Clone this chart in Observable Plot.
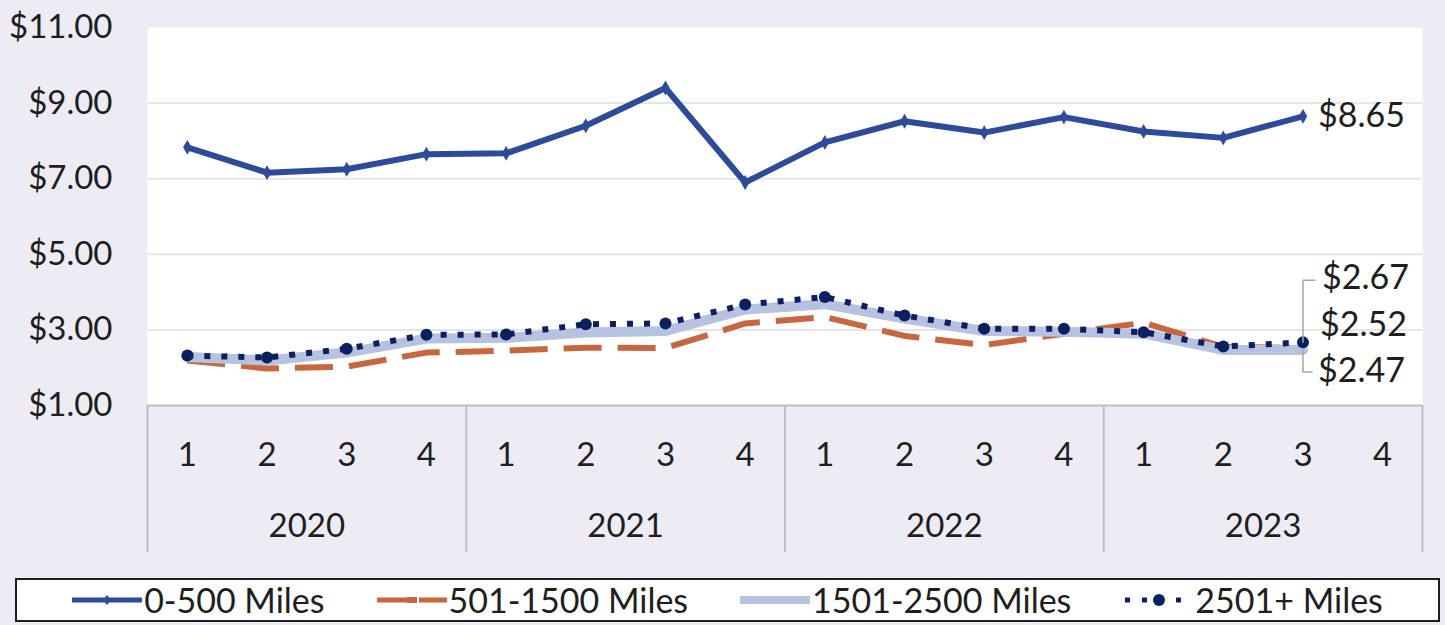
<!DOCTYPE html>
<html>
<head>
<meta charset="utf-8">
<script src="https://cdn.jsdelivr.net/npm/d3@7"></script>
<script src="https://cdn.jsdelivr.net/npm/@observablehq/plot@0.6"></script>
<style>
  html, body { margin: 0; padding: 0; background: #EDECF5; }
  body { font-family: Lato, "Open Sans", sans-serif; color: #1e1e1e; }
  #wrap { position: relative; width: 1445px; height: 625px; }
  #chart svg { display: block; }
  #legend {
    position: absolute; left: 15px; top: 578px; width: 1421px; height: 40px;
    border: 2px solid #1e1e1e; background: #fff;
    display: flex; align-items: center; justify-content: center; gap: 52px;
    font-size: 34px; line-height: 1;
  }
  .item { display: flex; align-items: center; white-space: nowrap; }
  .item svg { display: block; margin-right: 2px; }
</style>
</head>
<body>
<div id="wrap">
  <div id="chart"></div>
  <div id="legend"></div>
</div>
<script>
// ---- data ----
const years = ["2020", "2021", "2022", "2023"];
const quarters = ["1", "2", "3", "4"];
const seriesNames = ["0-500 Miles", "501-1500 Miles", "1501-2500 Miles", "2501+ Miles"];
const miles0to500     = [7.83, 7.16, 7.25, 7.65, 7.67, 8.40, 9.40, 6.90, 7.96, 8.52, 8.22, 8.63, 8.25, 8.08, 8.65];
const miles501to1500  = [2.19, 1.98, 2.03, 2.40, 2.45, 2.53, 2.52, 3.17, 3.34, 2.84, 2.60, 2.90, 3.19, 2.55, 2.52];
const miles1501to2500 = [2.28, 2.19, 2.40, 2.77, 2.79, 2.93, 2.97, 3.54, 3.68, 3.30, 2.97, 2.95, 2.90, 2.47, 2.47];
const miles2501plus   = [2.32, 2.27, 2.50, 2.87, 2.88, 3.15, 3.17, 3.67, 3.87, 3.38, 3.03, 3.03, 2.94, 2.56, 2.67];
const yTicks = [1, 3, 5, 7, 9, 11];

// ---- styles ----
const colors = ["#2E4A9B", "#C8673F", "#B7C2E0", "#0B2060"];

// ---- derived tables ----
const seriesValues = [miles0to500, miles501to1500, miles1501to2500, miles2501plus];
const rows = seriesValues.flatMap((vals, s) => vals.map((v, i) => ({ s, name: seriesNames[s], i, v })));
const bySeries = s => rows.filter(d => d.s === s);
const slots = years.flatMap((y, yi) => quarters.map((q, qi) => ({ i: yi * quarters.length + qi, q, y })));
const yearCenters = years.map((y, yi) => ({ y, i: yi * quarters.length + (quarters.length - 1) / 2 }));
const boundaries = years.map((y, yi) => yi * quarters.length - 0.5).concat([years.length * quarters.length - 0.5]);
const lastRows = seriesValues.map((vals, s) => ({ s, i: vals.length - 1, v: vals[vals.length - 1] }));
const fmt = v => "$" + v.toFixed(2);

// label offsets (pixels) for the end labels
const labelDx = [15, 17, 15, 19];
const labelDy = [0, -23, 21, -64];

const elbowUp = { draw(ctx, l) { ctx.moveTo(0, 0); ctx.lineTo(0, -l); ctx.lineTo(12, -l); } };
const elbowDown = { draw(ctx, l) { ctx.moveTo(0, 0); ctx.lineTo(0, l); ctx.lineTo(9, l); } };

const chart = Plot.plot({
  width: 1445,
  height: 575,
  marginLeft: 147,
  marginRight: 23,
  marginTop: 27,
  marginBottom: 170,
  style: { background: "transparent", fontFamily: "Lato, 'Open Sans', sans-serif", fontSize: "33px", color: "#1e1e1e", overflow: "visible" },
  x: { type: "linear", domain: [-0.5, quarters.length * years.length - 0.5], axis: null },
  y: { domain: [1, 11], axis: null },
  marks: [
    Plot.frame({ fill: "white", stroke: null }),
    Plot.gridY(yTicks.slice(1, -1), { stroke: "#E6E6E6", strokeOpacity: 1, strokeWidth: 2 }),
    Plot.axisY(yTicks, { tickSize: 0, tickPadding: 35, tickFormat: fmt, fontSize: 33, label: null }),
    Plot.ruleY([1], { stroke: "#BFBFBF", strokeWidth: 2 }),
    Plot.axisX(boundaries, { tickSize: 147, stroke: "#BFBFBF", strokeWidth: 2, tickFormat: () => "", label: null }),
    Plot.text(slots, { x: "i", text: "q", frameAnchor: "bottom", dy: 60, fontSize: 33 }),
    Plot.text(yearCenters, { x: "i", text: "y", frameAnchor: "bottom", dy: 131, fontSize: 33 }),

    // 0-500
    Plot.line(bySeries(0), { x: "i", y: "v", stroke: colors[0], strokeWidth: 6 }),
    Plot.dot(bySeries(0), { x: "i", y: "v", symbol: "diamond", r: 4.5, fill: colors[0] }),
    // 501-1500
    Plot.line(bySeries(1), { x: "i", y: "v", stroke: colors[1], strokeWidth: 6, strokeDasharray: "38,16", strokeLinecap: "butt" }),
    // 1501-2500
    Plot.line(bySeries(2), { x: "i", y: "v", stroke: colors[2], strokeWidth: 10 }),
    // 2501+
    Plot.line(bySeries(3), { x: "i", y: "v", stroke: colors[3], strokeWidth: 6, strokeDasharray: "6,11", strokeLinecap: "butt" }),
    Plot.dot(bySeries(3), { x: "i", y: "v", r: 6, fill: colors[3] }),

    // leader lines
    Plot.vector([lastRows[3]], { x: "i", y: "v", length: 62, anchor: "start", shape: elbowUp, stroke: "#A6A6A6", strokeWidth: 1.5 }),
    Plot.vector([lastRows[2]], { x: "i", y: "v", length: 22, anchor: "start", shape: elbowDown, stroke: "#A6A6A6", strokeWidth: 1.5 }),

    // end labels
    ...lastRows.map(d => Plot.text([d], { x: "i", y: "v", text: r => fmt(r.v), textAnchor: "start", dx: labelDx[d.s], dy: labelDy[d.s], fontSize: 34 }))
  ]
});
document.getElementById("chart").appendChild(chart);

// ---- legend ----
function swatch(s) {
  const w = 70, h = 20, c = colors[s];
  let inner = "";
  if (s === 0) inner = `<line x1="0" y1="10" x2="${w}" y2="10" stroke="${c}" stroke-width="5"/><path d="M35,5 L39,10 L35,15 L31,10 Z" fill="${c}"/>`;
  if (s === 1) inner = `<line x1="0" y1="10" x2="${w}" y2="10" stroke="${c}" stroke-width="5" stroke-dasharray="30,12"/><rect x="30" y="7" width="10" height="6" fill="${c}"/>`;
  if (s === 2) inner = `<line x1="0" y1="10" x2="${w}" y2="10" stroke="${c}" stroke-width="8"/>`;
  if (s === 3) inner = `<line x1="2" y1="10" x2="${w}" y2="10" stroke="${c}" stroke-width="5" stroke-dasharray="5,12"/><circle cx="36" cy="10" r="6" fill="${c}"/>`;
  return `<svg width="${w}" height="${h}">${inner}</svg>`;
}
document.getElementById("legend").innerHTML = seriesNames.map((n, s) =>
  `<div class="item">${swatch(s)}<span>${n}</span></div>`).join("");
</script>
</body>
</html>
